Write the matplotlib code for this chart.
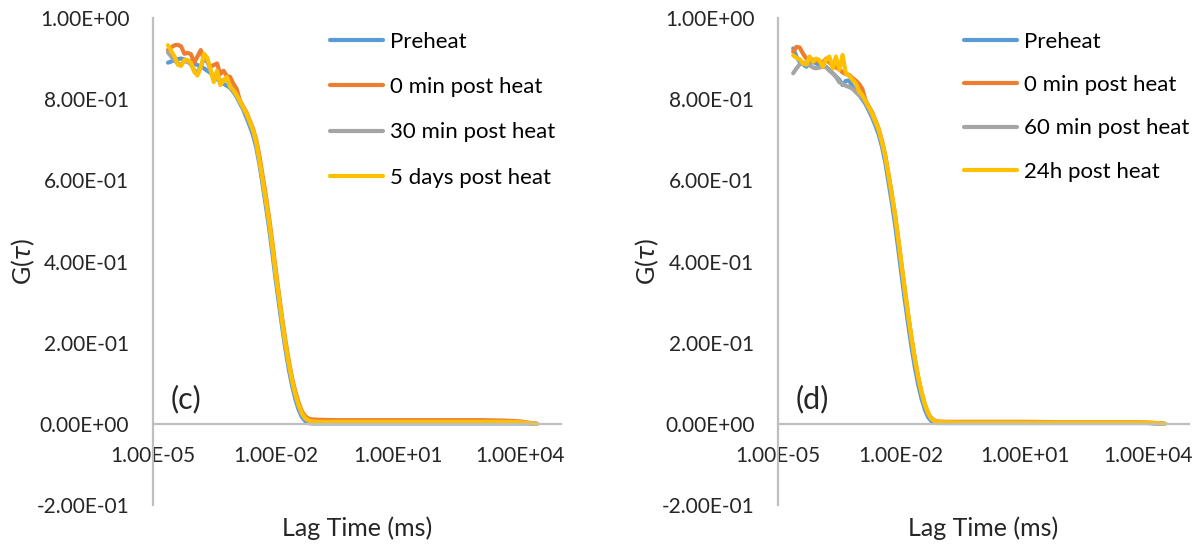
import matplotlib
matplotlib.use("Agg")
import matplotlib.pyplot as plt
from matplotlib.ticker import FixedLocator, FuncFormatter, NullLocator

plt.rcParams['font.family'] = ['Lato', 'DejaVu Sans']
plt.rcParams['mathtext.fontset'] = 'dejavusans'

# lag times (ms), shared by every curve
lag_ms = [2.34e-5, 2.82e-5, 3.39e-5, 4.07e-5, 4.90e-5, 5.89e-5, 7.08e-5, 8.51e-5,
          1.02e-4, 1.23e-4, 1.48e-4, 1.78e-4, 2.14e-4, 2.57e-4, 3.09e-4, 3.72e-4,
          4.47e-4, 5.37e-4, 6.46e-4, 7.76e-4, 9.33e-4, 1.12e-3, 1.35e-3, 1.62e-3,
          1.95e-3, 2.34e-3, 2.82e-3, 3.39e-3, 4.07e-3, 4.90e-3, 5.89e-3, 7.08e-3,
          8.51e-3, 1.02e-2, 1.23e-2, 1.48e-2, 1.78e-2, 2.14e-2, 2.57e-2, 3.09e-2,
          3.72e-2, 4.47e-2, 5.37e-2, 6.46e-2, 7.76e-2, 0.112, 0.316, 1.0, 10.0,
          100.0, 1000.0, 3980.0, 1.0e4, 1.58e4, 2.57e4]

# panel (c)
c_preheat = [0.890, 0.893, 0.897, 0.899, 0.900, 0.898, 0.895, 0.892, 0.888, 0.884, 0.880,
             0.876, 0.870, 0.865, 0.856, 0.850, 0.842, 0.838, 0.833, 0.828, 0.818, 0.806,
             0.790, 0.775, 0.755, 0.735, 0.712, 0.682, 0.640, 0.588, 0.535, 0.480, 0.418,
             0.355, 0.294, 0.236, 0.182, 0.134, 0.094, 0.061, 0.035, 0.017, 0.007, 0.002,
             0.001, 0.001, 0.001, 0.001, 0.001, 0.001, 0.001, 0.001, 0.001, 0.001, 0.0]
c_0min = [0.921, 0.928, 0.933, 0.934, 0.930, 0.912, 0.914, 0.911, 0.890, 0.905, 0.921,
          0.898, 0.892, 0.880, 0.884, 0.888, 0.862, 0.870, 0.857, 0.855, 0.838, 0.826,
          0.797, 0.782, 0.768, 0.748, 0.728, 0.700, 0.660, 0.610, 0.560, 0.505, 0.445,
          0.380, 0.318, 0.258, 0.203, 0.155, 0.113, 0.079, 0.052, 0.031, 0.019, 0.013,
          0.011, 0.010, 0.009, 0.009, 0.009, 0.009, 0.009, 0.008, 0.006, 0.003, 0.0]
c_30min = [0.915, 0.905, 0.895, 0.888, 0.886, 0.893, 0.892, 0.886, 0.872, 0.865, 0.880,
           0.900, 0.895, 0.870, 0.850, 0.866, 0.840, 0.848, 0.850, 0.833, 0.823, 0.810,
           0.794, 0.779, 0.763, 0.743, 0.722, 0.692, 0.648, 0.597, 0.547, 0.492, 0.432,
           0.368, 0.307, 0.248, 0.193, 0.146, 0.105, 0.071, 0.044, 0.024, 0.012, 0.007,
           0.005, 0.004, 0.004, 0.004, 0.004, 0.004, 0.004, 0.004, 0.003, 0.002, 0.0]
c_5days = [0.933, 0.918, 0.905, 0.885, 0.882, 0.897, 0.896, 0.890, 0.868, 0.858, 0.878,
           0.912, 0.902, 0.874, 0.842, 0.870, 0.835, 0.845, 0.855, 0.831, 0.822, 0.810,
           0.795, 0.780, 0.765, 0.745, 0.725, 0.695, 0.650, 0.600, 0.550, 0.495, 0.435,
           0.370, 0.310, 0.250, 0.195, 0.148, 0.107, 0.073, 0.046, 0.026, 0.014, 0.009,
           0.006, 0.005, 0.005, 0.005, 0.005, 0.005, 0.005, 0.005, 0.004, 0.002, 0.0]

# panel (d)
d_preheat = [0.925, 0.905, 0.892, 0.886, 0.880, 0.888, 0.892, 0.888, 0.884, 0.882, 0.880,
             0.872, 0.864, 0.856, 0.848, 0.835, 0.845, 0.846, 0.832, 0.822, 0.812, 0.800,
             0.788, 0.772, 0.755, 0.735, 0.713, 0.683, 0.645, 0.595, 0.545, 0.490, 0.428,
             0.365, 0.302, 0.243, 0.188, 0.139, 0.097, 0.063, 0.036, 0.017, 0.007, 0.003,
             0.002, 0.002, 0.002, 0.002, 0.002, 0.002, 0.002, 0.002, 0.002, 0.001, 0.0]
d_0min = [0.917, 0.929, 0.927, 0.912, 0.900, 0.896, 0.898, 0.895, 0.892, 0.890, 0.900,
          0.890, 0.884, 0.878, 0.874, 0.866, 0.862, 0.860, 0.852, 0.846, 0.838, 0.826,
          0.797, 0.782, 0.768, 0.748, 0.727, 0.698, 0.662, 0.614, 0.566, 0.514, 0.453,
          0.390, 0.327, 0.266, 0.210, 0.160, 0.116, 0.079, 0.049, 0.027, 0.014, 0.008,
          0.006, 0.005, 0.005, 0.005, 0.005, 0.004, 0.004, 0.004, 0.003, 0.002, 0.0]
d_60min = [0.864, 0.876, 0.886, 0.890, 0.888, 0.884, 0.878, 0.876, 0.878, 0.880, 0.879,
           0.870, 0.864, 0.855, 0.842, 0.838, 0.833, 0.830, 0.826, 0.818, 0.810, 0.805,
           0.793, 0.778, 0.762, 0.742, 0.722, 0.692, 0.657, 0.609, 0.560, 0.508, 0.447,
           0.385, 0.322, 0.262, 0.206, 0.156, 0.112, 0.075, 0.046, 0.025, 0.012, 0.006,
           0.004, 0.003, 0.003, 0.003, 0.003, 0.003, 0.003, 0.003, 0.002, 0.001, 0.0]
d_24h = [0.908, 0.902, 0.898, 0.888, 0.885, 0.905, 0.892, 0.900, 0.896, 0.880, 0.898,
         0.905, 0.876, 0.905, 0.872, 0.909, 0.864, 0.858, 0.848, 0.840, 0.820, 0.810,
         0.795, 0.780, 0.765, 0.745, 0.725, 0.695, 0.660, 0.612, 0.565, 0.513, 0.452,
         0.390, 0.327, 0.266, 0.210, 0.160, 0.116, 0.079, 0.049, 0.027, 0.013, 0.007,
         0.005, 0.004, 0.003, 0.003, 0.003, 0.003, 0.003, 0.003, 0.003, 0.002, 0.0]

labels_c = ["Preheat", "0 min post heat", "30 min post heat", "5 days post heat"]
labels_d = ["Preheat", "0 min post heat", "60 min post heat", "24h post heat"]
colors = ["#5B9BD5", "#ED7D31", "#A5A5A5", "#FFC000"]
axis_gray = "#BFBFBF"
text_col = "#262626"

x_ticks = [1e-5, 1e-2, 1e1, 1e4]
y_ticks = [-0.2, 0.0, 0.2, 0.4, 0.6, 0.8, 1.0]

fig = plt.figure(figsize=(11.96, 5.46), dpi=100)
ax_c = fig.add_axes([0.1279, 0.0751, 0.3411, 0.8919])
ax_d = fig.add_axes([0.6505, 0.0751, 0.3436, 0.8919])

sci = FuncFormatter(lambda v, pos: f"{v:.2E}")


def draw_panel(ax, series, labels, tag, leg_x, leg_space):
    for g, lab, col in zip(series, labels, colors):
        ax.plot(lag_ms, g, color=col, lw=3.0, label=lab, solid_capstyle='round')
    ax.set_xscale('log')
    ax.set_xlim(1e-5, 1e5)
    ax.set_ylim(-0.2, 1.0)
    ax.xaxis.set_major_locator(FixedLocator(x_ticks))
    ax.xaxis.set_minor_locator(NullLocator())
    ax.xaxis.set_major_formatter(sci)
    ax.yaxis.set_major_locator(FixedLocator(y_ticks))
    ax.yaxis.set_major_formatter(sci)
    for side in ['top', 'right']:
        ax.spines[side].set_visible(False)
    ax.spines['bottom'].set_position(('data', 0))
    for side in ['left', 'bottom']:
        ax.spines[side].set_color(axis_gray)
        ax.spines[side].set_linewidth(1.6)
    ax.tick_params(axis='x', length=0, pad=16, labelsize=15, colors=text_col)
    ax.tick_params(axis='y', length=0, pad=17, labelsize=15, colors=text_col)
    ax.set_xlabel("Lag Time (ms)", fontsize=18, color=text_col)
    ax.xaxis.set_label_coords(0.5, -0.024)
    ax.set_ylabel(r"G($\tau$)", fontsize=18, color=text_col)
    ax.yaxis.set_label_coords(-0.285, 0.5)
    ax.text(0.044, 0.062, tag, transform=ax.get_yaxis_transform(),
            fontsize=22, color=text_col, va='center', ha='left')
    ax.legend(loc='upper left', bbox_to_anchor=(leg_x, 0.972), frameon=False,
              fontsize=16, handlelength=2.4, handletextpad=0.3,
              labelspacing=leg_space, borderpad=0, borderaxespad=0)


draw_panel(ax_c, [c_preheat, c_0min, c_30min, c_5days], labels_c, "(c)", 0.434, 1.14)
draw_panel(ax_d, [d_preheat, d_0min, d_60min, d_24h], labels_d, "(d)", 0.453, 1.05)

fig.savefig("out.png", dpi=100)
